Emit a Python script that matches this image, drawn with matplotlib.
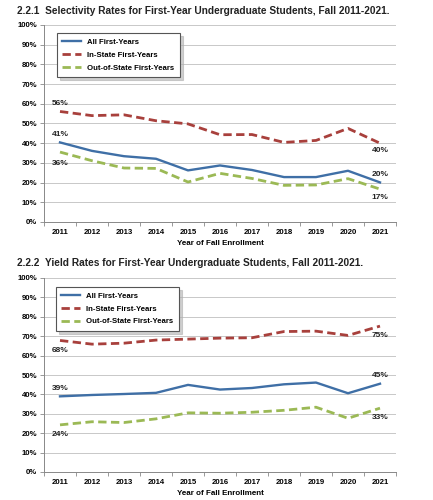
import matplotlib
matplotlib.use("Agg")
import matplotlib.pyplot as plt
import numpy as np

plt.rcParams['font.family'] = ['Liberation Sans', 'DejaVu Sans']

years = ['2011', '2012', '2013', '2014', '2015', '2016', '2017', '2018', '2019', '2020', '2021']
series_names = ['All First-Years', 'In-State First-Years', 'Out-of-State First-Years']

sel_all = [40.4, 36.1, 33.4, 32.1, 26.2, 28.7, 26.4, 22.8, 22.8, 26.0, 20.1]
sel_in = [56.1, 54.0, 54.4, 51.4, 49.8, 44.3, 44.4, 40.4, 41.4, 47.5, 40.0]
sel_out = [35.5, 31.1, 27.4, 27.2, 20.3, 24.7, 22.1, 18.6, 18.8, 22.0, 16.7]

yld_all = [39.0, 39.7, 40.2, 40.8, 44.9, 42.5, 43.3, 45.2, 46.1, 40.6, 45.5]
yld_in = [67.8, 65.9, 66.4, 68.0, 68.5, 69.0, 69.2, 72.4, 72.6, 70.4, 75.2]
yld_out = [24.3, 25.9, 25.5, 27.4, 30.5, 30.3, 30.8, 31.8, 33.4, 27.7, 32.9]

sel_labels = [('56%', 0, sel_in, 6), ('41%', 0, sel_all, 6), ('36%', 0, sel_out, -8),
              ('40%', 10, sel_in, -5), ('20%', 10, sel_all, 6), ('17%', 10, sel_out, -6)]
yld_labels = [('68%', 0, yld_in, -7), ('39%', 0, yld_all, 6), ('24%', 0, yld_out, -7),
              ('75%', 10, yld_in, -7), ('45%', 10, yld_all, 6), ('33%', 10, yld_out, -7)]

titles = ['2.2.1  Selectivity Rates for First-Year Undergraduate Students, Fall 2011-2021.',
          '2.2.2  Yield Rates for First-Year Undergraduate Students, Fall 2011-2021.']

c_blue = '#3f6fa6'
c_red = '#a8403c'
c_green = '#9bb955'

fig = plt.figure(figsize=(4.33, 5.0), dpi=100)

def draw(rect, a, b, c, labels, title, title_y, leg_anchor):
    ax = fig.add_axes(rect)
    x = np.arange(len(years))
    ax.plot(x, a, color=c_blue, lw=1.7, label=series_names[0], zorder=3)
    ax.plot(x, b, color=c_red, lw=2.0, ls=(0, (3, 1.6)), label=series_names[1], zorder=3)
    ax.plot(x, c, color=c_green, lw=2.0, ls=(0, (3, 1.6)), label=series_names[2], zorder=3)
    ax.set_xlim(-0.5, len(years) - 0.5)
    ax.set_ylim(0, 100)
    ax.set_yticks(np.arange(0, 101, 10))
    ax.set_yticklabels([f'{v}%' for v in range(0, 101, 10)], fontsize=5.6, fontweight='bold')
    ax.set_xticks(x)
    ax.set_xticklabels(years, fontsize=5.6, fontweight='bold')
    ax.tick_params(axis='x', length=0, pad=5)
    ax.set_xticks(np.arange(-0.5, len(years), 1), minor=True)
    ax.tick_params(axis='x', which='minor', length=3, color='#888888', width=0.6)
    ax.tick_params(axis='y', length=3, color='#888888', width=0.6, pad=2)
    ax.grid(axis='y', color='#c8c8c8', lw=0.7)
    ax.set_axisbelow(True)
    for s in ['top', 'right']:
        ax.spines[s].set_visible(False)
    for s in ['left', 'bottom']:
        ax.spines[s].set_color('#888888')
        ax.spines[s].set_linewidth(0.7)
    ax.set_xlabel('Year of Fall Enrollment', fontsize=5.8, fontweight='bold', labelpad=3)
    for txt, i, arr, off in labels:
        ax.annotate(txt, (i, arr[i]), xytext=(0, off), textcoords='offset points',
                    ha='center', va='center', fontsize=6, fontweight='bold', color='#222222')
    leg = ax.legend(loc='upper left', bbox_to_anchor=leg_anchor,
                    prop={'weight': 'bold', 'size': 5.6}, frameon=True, fancybox=False,
                    shadow={'color': '#b0b0b0', 'alpha': 0.6, 'ox': 2, 'oy': -2},
                    handlelength=2.4, borderpad=0.7, labelspacing=0.7,
                    borderaxespad=0)
    leg.get_frame().set_edgecolor('#555555')
    leg.get_frame().set_linewidth(0.8)
    fig.text(17 / 433, title_y, title, fontsize=7.3, fontweight='bold', color='#222222',
             ha='left', va='center')
    return ax

draw([44 / 433, 1 - 222 / 500, 352 / 433, 197 / 500], sel_all, sel_in, sel_out,
     sel_labels, titles[0], 1 - 11 / 500, (0.037, 0.96))
draw([44 / 433, 1 - 472 / 500, 352 / 433, 194 / 500], yld_all, yld_in, yld_out,
     yld_labels, titles[1], 1 - 263 / 500, (0.034, 0.955))

fig.savefig('out.png', dpi=100)
